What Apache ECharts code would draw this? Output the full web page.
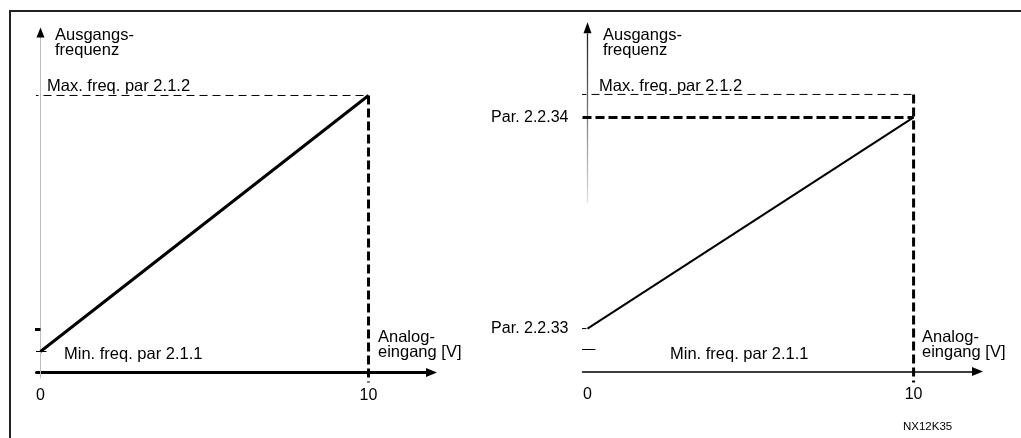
<!DOCTYPE html>
<html><head><meta charset="utf-8">
<script src="https://cdn.jsdelivr.net/npm/echarts@6/dist/echarts.min.js"></script>
<style>html,body{margin:0;padding:0;background:#fff}#c{width:1021px;height:438px}</style>
</head><body><div id="c"></div>
<script>
// ---- data ----
const xTickValues = [0, 10];
const rampX = [0, 10];
const leftRampY = [0, 100];
const rightRampY = [8.2, 91];
const maxFreq = 100;
const minFreq = 0;
const leftMarkY = 8.6;
const parValues = [8.2, 91];
const parLabels = ['Par. 2.2.33', 'Par. 2.2.34'];

const FONT = '"Liberation Sans", Arial, sans-serif';
const FS = '16.5px ';
const chart = echarts.init(document.getElementById('c'), null, {renderer: 'canvas'});

function seg(gi, pts, width, color, dash) {
  return {
    type: 'line', xAxisIndex: gi, yAxisIndex: gi, data: pts, symbol: 'none',
    clip: false, silent: true, animation: false, z: 3,
    lineStyle: {width: width, color: color, type: dash || 'solid', cap: 'butt'}
  };
}
const thinDash = [8, 5];
const thickDash = [9, 4];

const leftSeries = [
  seg(0, [[0, -10.5], [0, 124.2]], 1, '#bdbdbd'),
  seg(0, [[-0.305, maxFreq], [rampX[1], maxFreq]], 1, '#000', thinDash),
  seg(0, [[rampX[1], maxFreq], [rampX[1], -12.1]], 3, '#000', thickDash),
  seg(0, [[-0.305, minFreq], [0.183, minFreq]], 1, '#000'),
  seg(0, [[-0.18, leftMarkY], [0, leftMarkY]], 3, '#000'),
  seg(0, rampX.map((x, i) => [x, leftRampY[i]]), 3, '#000')
];
leftSeries[0].markPoint = {
  symbol: 'triangle', symbolSize: [8, 10], silent: true, animation: false,
  itemStyle: {color: '#000'}, label: {show: false},
  data: [{coord: [0, 124.6]}]
};

const rightSeries = [
  seg(1, [[0, 57.6], [0, 123.9]], 1.3,
      new echarts.graphic.LinearGradient(0, 0, 0, 1, [{offset: 0, color: '#1a1a1a'}, {offset: 1, color: '#e4e4e4'}])),
  seg(1, [[-0.276, maxFreq], [rampX[1], maxFreq]], 1, '#000', thinDash),
  seg(1, [[-0.153, parValues[1]], [rampX[1], parValues[1]]], 3, '#000', thickDash),
  seg(1, [[rampX[1], maxFreq], [rampX[1], -12.9]], 3, '#000', thickDash),
  seg(1, [[-0.215, parValues[0]], [-0.03, parValues[0]]], 1, '#000'),
  seg(1, [[-0.276, minFreq], [0.245, minFreq]], 1, '#000'),
  seg(1, rampX.map((x, i) => [x, rightRampY[i]]), 2, '#000')
];
rightSeries[0].markPoint = {
  symbol: 'triangle', symbolSize: [8, 11], silent: true, animation: false,
  itemStyle: {color: '#000'}, label: {show: false},
  data: [{coord: [0, 126.1]}]
};

function xAxisCfg(gi, min, max, lw) {
  return {
    type: 'value', gridIndex: gi, min: min, max: max,
    splitLine: {show: false}, axisTick: {show: false},
    axisLine: {show: true, onZero: false, symbol: ['none', 'triangle'], symbolSize: [9, 11],
      lineStyle: {color: '#000', width: lw}},
    axisLabel: {customValues: xTickValues, color: '#000', fontFamily: FONT, fontSize: 16, margin: 15,
      showMinLabel: true, showMaxLabel: true}
  };
}

const option = {
  animation: false,
  grid: [
    {left: 36.5, width: 395, top: 22.5, height: 350},
    {left: 582.5, width: 395, top: 22.5, height: 349}
  ],
  xAxis: [
    xAxisCfg(0, -0.122, 11.92, 3),
    xAxisCfg(1, -0.153, 11.96, 1.5)
  ],
  yAxis: [
    {type: 'value', gridIndex: 0, min: -8.2, max: 128.5, axisLine: {show: false}, axisTick: {show: false},
      splitLine: {show: false}, axisLabel: {show: false}},
    {type: 'value', gridIndex: 1, min: -8.63, max: 128.2, axisLine: {show: false}, axisTick: {show: false},
      splitLine: {show: false},
      axisLabel: {customValues: parValues, color: '#000', fontFamily: FONT, fontSize: 16, margin: 14,
        formatter: v => { const i = parValues.findIndex(p => Math.abs(p - v) < 1e-6); return i >= 0 ? parLabels[i] : ''; }}}
  ],
  graphic: [
    {type: 'rect', shape: {x: 10, y: 11, width: 1100, height: 1000}, style: {fill: 'none', stroke: '#222', lineWidth: 2}, silent: true},
    {type: 'text', x: 55, y: 28, style: {text: 'Ausgangs-\nfrequenz', font: FS + FONT, fill: '#000', lineHeight: 15}},
    {type: 'text', x: 47, y: 78, style: {text: 'Max. freq. par 2.1.2', font: FS + FONT, fill: '#000'}},
    {type: 'text', x: 64, y: 346, style: {text: 'Min. freq. par 2.1.1', font: FS + FONT, fill: '#000'}},
    {type: 'text', x: 378, y: 330, style: {text: 'Analog-\neingang [V]', font: FS + FONT, fill: '#000', lineHeight: 15}},
    {type: 'text', x: 603, y: 28, style: {text: 'Ausgangs-\nfrequenz', font: FS + FONT, fill: '#000', lineHeight: 15}},
    {type: 'text', x: 599, y: 78, style: {text: 'Max. freq. par 2.1.2', font: FS + FONT, fill: '#000'}},
    {type: 'text', x: 670, y: 346, style: {text: 'Min. freq. par 2.1.1', font: FS + FONT, fill: '#000'}},
    {type: 'text', x: 922, y: 330, style: {text: 'Analog-\neingang [V]', font: FS + FONT, fill: '#000', lineHeight: 15}},
    {type: 'text', x: 903, y: 421, style: {text: 'NX12K35', font: '11.5px ' + FONT, fill: '#000'}}
  ],
  series: leftSeries.concat(rightSeries)
};
chart.setOption(option);
</script></body></html>
